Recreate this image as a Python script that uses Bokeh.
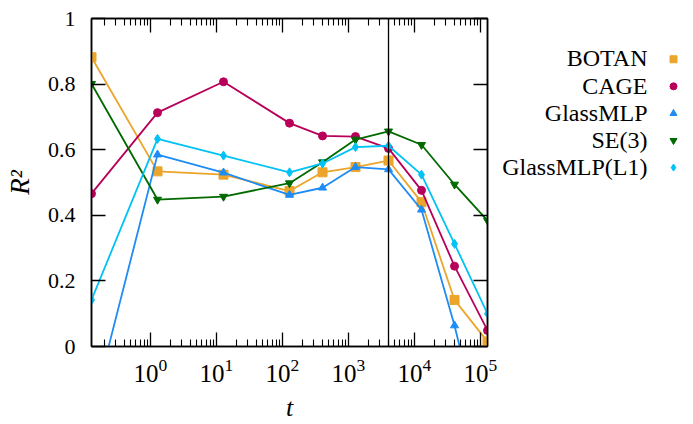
from bokeh.plotting import figure
from bokeh.models import Range1d, FixedTicker, LogAxis, LinearAxis, Span, ColumnDataSource
from bokeh.layouts import row
from bokeh.embed import file_html
from bokeh.resources import INLINE
from bokeh.core.properties import value

# ---- data ----
t = [0.128, 1.28, 12.8, 128, 405, 1280, 4050, 12800, 40500, 128000]
botan = [0.882, 0.534, 0.524, 0.474, 0.531, 0.547, 0.567, 0.440, 0.142, 0.015]
cage = [0.466, 0.713, 0.807, 0.681, 0.642, 0.640, 0.604, 0.476, 0.245, 0.049]
glassmlp = [-0.205, 0.585, 0.530, 0.462, 0.484, 0.547, 0.540, 0.417, 0.064, -0.35]
se3 = [0.801, 0.448, 0.457, 0.498, 0.562, 0.631, 0.656, 0.615, 0.494, 0.384]
glassmlp_l1 = [0.142, 0.633, 0.582, 0.531, 0.558, 0.608, 0.612, 0.524, 0.313, 0.100]

names = ["BOTAN", "CAGE", "GlassMLP", "SE(3)", "GlassMLP(L1)"]
series = [botan, cage, glassmlp, se3, glassmlp_l1]
markers = ["square", "circle", "triangle", "inverted_triangle", "diamond"]
colors = ["#EBA52A", "#B8005A", "#1E8CF5", "#006A00", "#00C2F5"]
msizes = [9, 8, 8, 8, 9]

vline_t = 4050
x_major = [1, 10, 100, 1000, 10000, 100000]
y_ticks = [0, 0.2, 0.4, 0.6, 0.8, 1]
y_labels = ["0", "0.2", "0.4", "0.6", "0.8", "1"]

x_minor = []
for e in range(-1, 6):
    for m in range(2, 10):
        x_minor.append(m * 10.0 ** e)

FONT = "Liberation Serif"

p = figure(width=497, height=424, x_axis_type="log",
           x_range=Range1d(t[0], t[-1]), y_range=Range1d(0, 1),
           output_backend="svg", toolbar_location=None,
           min_border_left=91, min_border_right=10,
           min_border_top=18, min_border_bottom=78)
p.grid.visible = False
p.outline_line_color = "black"
p.outline_line_width = 1.5
p.background_fill_color = "white"
p.border_fill_color = "white"

xt = FixedTicker(ticks=x_major, minor_ticks=x_minor)
yt = FixedTicker(ticks=y_ticks, minor_ticks=[])

def style_axis(ax, labels=True):
    ax.major_tick_in = 14
    ax.major_tick_out = 0
    ax.minor_tick_in = 7
    ax.minor_tick_out = 0
    ax.axis_line_color = "black"
    ax.axis_line_width = 1.5
    ax.major_tick_line_width = 1.3
    ax.minor_tick_line_width = 1.1
    ax.major_tick_line_color = "black"
    ax.minor_tick_line_color = "black"
    if not labels:
        ax.major_label_text_font_size = "1px"
        ax.major_label_text_alpha = 0
        ax.major_label_standoff = 0

xa = p.xaxis[0]
xa.ticker = xt
style_axis(xa)
xa.major_label_text_font = FONT
xa.major_label_text_font_size = "25px"
xa.major_label_text_color = "black"
xa.major_label_standoff = 12
xa.axis_label = "t"
xa.axis_label_text_font = FONT
xa.axis_label_text_font_style = "italic"
xa.axis_label_text_font_size = "26px"
xa.axis_label_text_color = "black"
xa.axis_label_standoff = 8

ya = p.yaxis[0]
ya.ticker = yt
style_axis(ya)
ya.minor_tick_in = 0
ya.major_label_overrides = dict(zip(y_ticks, y_labels))
ya.major_label_text_font = FONT
ya.major_label_text_font_size = "22px"
ya.major_label_text_color = "black"
ya.major_label_standoff = 16
ya.axis_label = "R²"
ya.axis_label_text_font = FONT
ya.axis_label_text_font_style = "italic"
ya.axis_label_text_font_size = "27px"
ya.axis_label_text_color = "black"
ya.axis_label_standoff = 10

top = LogAxis(ticker=xt)
style_axis(top, labels=False)
p.add_layout(top, "above")

right = LinearAxis(ticker=yt)
style_axis(right, labels=False)
right.minor_tick_in = 0
p.add_layout(right, "right")

p.add_layout(Span(location=vline_t, dimension="height",
                  line_color="black", line_width=1.3))

for ys, mk, c, ms in zip(series, markers, colors, msizes):
    p.line(t, ys, line_color=c, line_width=1.8)
    p.scatter(t, ys, marker=mk, size=ms, fill_color=c, line_color=c)

# ---- legend panel (text right-aligned, symbol on the right) ----
p2 = figure(width=196, height=424, x_range=Range1d(0, 196), y_range=Range1d(424, 0),
            output_backend="svg", toolbar_location=None, min_border=0,
            x_axis_location=None, y_axis_location=None)
p2.outline_line_color = None
p2.grid.visible = False
p2.background_fill_color = "white"
p2.border_fill_color = "white"

ly = [52.7 + 35.0 * i for i in range(len(names))]
src = ColumnDataSource(dict(x=[176] * len(names), y=ly, m=markers, c=colors,
                            tx=[150] * len(names), ty=[v - 1 for v in ly], n=names))
p2.text(x="tx", y="ty", text="n", source=src, text_align="right", text_baseline="middle",
        text_font=value(FONT), text_font_size="24px", text_color="black")
p2.scatter(x="x", y="y", marker="m", fill_color="c", line_color="c", size=7, source=src)

layout = row(p, p2)
open("out.html", "w").write(file_html(layout, INLINE))
